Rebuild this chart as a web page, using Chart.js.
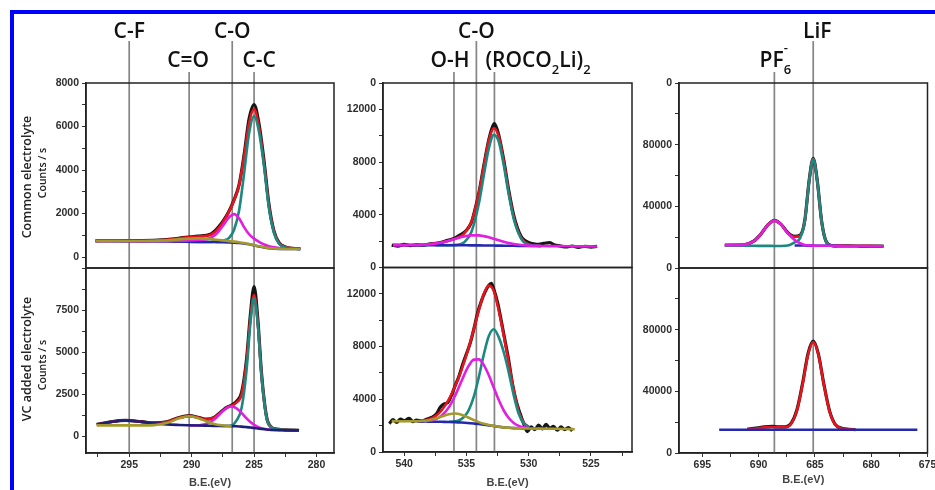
<!DOCTYPE html>
<html lang="en">
<head>
<meta charset="UTF-8">
<title>C 1s, O 1s and F 1s spectra</title>
<script src="https://cdn.jsdelivr.net/npm/chart.js@4.4.1/dist/chart.umd.min.js"></script>
<style>
  body { margin: 0; width: 935px; height: 490px; overflow: hidden; position: relative; background: #fff; }
  #frame { position: absolute; left: 10px; top: 10px; width: 960px; height: 520px; border-left: 4px solid #0000ff; border-top: 4px solid #0000ff; }
  canvas { position: absolute; top: 0; }
</style>
</head>
<body>
<div id="frame"></div>
<canvas id="c1s" width="340" height="490" style="left:0px"></canvas>
<canvas id="o1s" width="300" height="490" style="left:340px"></canvas>
<canvas id="f1s" width="295" height="490" style="left:640px"></canvas>
<script>
// ---------- C 1s ----------
const c1sBonds = ['C-F', 'C=O', 'C-O', 'C-C'];
const c1sBondBE = [295.0, 290.2, 286.75, 285.0];

const c1sBE = [297.7, 296, 294, 292, 290.5, 289.5, 288.5, 288, 287.5, 287, 286.6, 286.2, 285.8, 285.4, 285.0, 284.6, 284.2, 283.8, 283.4, 283.0, 282.5, 281.3];
const c1sComBg = [740, 735, 725, 715, 705, 700, 695, 690, 685, 675, 665, 650, 625, 590, 540, 490, 445, 410, 390, 380, 375, 372];
const c1sComCeqO = [740, 740, 740, 770, 840, 860, 830, 800, 770, 735, 710, 680, 645, 600, 550, 495, 450, 415, 393, 382, 376, 372];
const c1sComCO = [740, 745, 730, 740, 760, 790, 880, 1080, 1441, 1830, 1975, 1780, 1380, 1050, 850, 700, 580, 500, 450, 420, 395, null];
const c1sComCC = [null, null, null, null, 705, 700, 695, 726, 756, 883, 1259, 2141, 3839, 5687, 6480, 5740, 4145, 2210, 1090, 610, 445, 380];
const c1sComFit = [740, 750, 745, 795, 895, 950, 1015, 1226, 1597, 2098, 2614, 3301, 4614, 6157, 6800, 5955, 4285, 2305, 1153, 652, 466, 383];
const c1sComRaw = [745, 760, 755, 805, 905, 965, 1050, 1290, 1640, 2120, 2640, 3330, 4700, 6350, 7010, 6100, 4400, 2380, 1180, 660, 470, 380];

const c1sVcBE = [297.6, 296.5, 295.3, 294, 293, 292, 291, 290.2, 289.4, 288.8, 288.2, 287.6, 287.2, 286.8, 286.4, 286.0, 285.6, 285.3, 285.0, 284.7, 284.4, 284.0, 283.6, 283.2, 282.6, 281.4];
const c1sVcCF = [690, 840, 930, 850, 760, 700, 668, 650, 635, 625, 615, 610, 605, 600, 590, 570, 540, 515, 490, 460, 430, 395, 370, 358, 350, 345];
const c1sVcCeqO = [640, 640, 640, 641, 657, 780, 1061, 1188, 1056, 871, 724, 645, 619, 605, null, null, null, null, null, null, null, null, null, null, null, null];
const c1sVcCO = [null, null, null, null, null, null, null, 628, 650, 738, 996, 1421, 1672, 1770, 1657, 1381, 1053, 837, 673, 553, 473, 407, 372, null, null, null];
const c1sVcCC = [null, null, null, null, null, null, null, null, null, null, null, 610, 605, 640, 940, 1670, 3940, 6668, 8210, 6613, 3555, 1095, 520, 418, 375, 345];
const c1sVcFit = [690, 840, 930, 853, 782, 848, 1099, 1210, 1091, 994, 1105, 1456, 1686, 1815, 2007, 2481, 4453, 6990, 8393, 6706, 3598, 1107, 520, 418, 375, 345];
const c1sVcRaw = [700, 850, 935, 860, 790, 855, 1110, 1220, 1100, 1010, 1120, 1480, 1720, 1850, 2080, 2600, 4600, 7200, 8900, 6950, 3700, 1150, 530, 420, 378, 347];

const c1sTicks = [280, 282.5, 285, 287.5, 290, 292.5, 295, 297.5];
const c1sTickLabels = ['280', '', '285', '', '290', '', '295', ''];
const c1sComTicks = [0, 1000, 2000, 3000, 4000, 5000, 6000, 7000, 8000];
const c1sComLabels = ['0', '', '2000', '', '4000', '', '6000', '', '8000'];
const c1sVcTicks = [0, 1250, 2500, 3750, 5000, 6250, 7500, 8750, 10000];
const c1sVcLabels = ['0', '', '2500', '', '5000', '', '7500', '', ''];

// ---------- O 1s ----------
const o1sBonds = ['O-H', 'C-O', '(ROCO_{2}Li)_{2}'];
const o1sBondBE = [536.0, 534.2, 532.75];

const o1sBE = [540.9, 539, 537.5, 536.5, 535.8, 535.2, 534.6, 534.0, 533.6, 533.2, 532.8, 532.4, 532.0, 531.6, 531.2, 530.6, 530.0, 529.0, 528.3, 527.5, 526.5, 525.5, 524.5];
const o1sComBg = [1700, 1695, 1690, 1690, 1688, 1685, 1682, 1678, 1675, 1670, 1665, 1660, 1655, 1650, 1645, 1640, 1635, 1630, null, null, null, null, null];
const o1sComCO = [1700, 1709, 1809, 2009, 2199, 2349, 2440, 2436, 2379, 2288, 2176, 2059, 1948, 1854, 1779, 1703, 1661, 1634, 1625, 1620, 1610, 1600, 1595];
const o1sComROCO = [null, null, 1690, 1690, 1716, 1895, 2694, 4851, 6995, 9036, 10060, 9541, 7751, 5540, 3683, 2179, 1728, 1630, null, null, null, null, null];
const o1sComFit = [1700, 1709, 1809, 2009, 2227, 2559, 3452, 5609, 7699, 9654, 10571, 9940, 8044, 5744, 3817, 2242, 1754, 1634, null, null, null, null, null];
const o1sComRawBE = [541.0, 540.5, 540.0, 539.5, 539.0, 538.5, 538.0, 537.5, 537.0, 536.5, 536.0, 535.5, 535.0, 534.6, 534.3, 534.0, 533.6, 533.2, 532.9, 532.75, 532.6, 532.4, 532.0, 531.6, 531.2, 530.9, 530.6, 530.3, 530.0, 529.6, 529.2, 528.8, 528.3, 527.9, 527.5, 527.0, 526.5, 526.0, 525.5, 525.0, 524.5];
const o1sComRaw = [1700, 1620, 1760, 1660, 1720, 1690, 1780, 1830, 1910, 2060, 2200, 2470, 2830, 3420, 4450, 5650, 7750, 9700, 10700, 10920, 10650, 10050, 8150, 5850, 3950, 3000, 2350, 2050, 1900, 1800, 1760, 1830, 1880, 1700, 1640, 1560, 1630, 1530, 1610, 1550, 1600];

const o1sVcBE = [541.0, 540.0, 539.0, 538.3, 537.6, 537.0, 536.4, 535.9, 535.4, 534.9, 534.4, 534.0, 533.6, 533.2, 532.8, 532.4, 532.0, 531.6, 531.2, 530.8, 530.4, 530.0, 529.0, 528.0, 527.0, 526.3];
const o1sVcBg = [null, null, 2320, 2310, 2300, 2290, 2280, 2265, 2240, 2205, 2160, 2120, 2070, 2020, 1970, 1920, 1870, 1840, 1815, 1800, 1790, 1780, null, null, null, null];
const o1sVcOH = [2340, 2330, 2333, 2372, 2500, 2689, 2871, 2920, 2831, 2639, 2420, 2269, 2145, 2053, 1983, 1925, 1870, 1840, 1815, 1800, 1790, 1780, 1770, 1760, 1745, 1730];
const o1sVcCO = [null, null, null, 2342, 2452, 2750, 3407, 4284, 5367, 6396, 7011, 7027, 6591, 5817, 4872, 3939, 3149, 2578, 2203, 1986, 1871, 1810, null, null, null, null];
const o1sVcROCO = [null, null, null, null, null, null, 2292, 2327, 2495, 3022, 4213, 5704, 7406, 8798, 9310, 8698, 7570, 6040, 4315, 2900, 2170, 1880, null, null, null, null];
const o1sVcFit = [null, null, 2333, 2404, 2652, 3149, 4010, 5001, 6213, 7647, 9324, 10760, 12002, 12628, 12225, 10722, 8849, 6778, 4703, 3086, 2251, 1910, null, null, null, null];
const o1sVcRawBE = [541.2, 540.9, 540.6, 540.3, 540.0, 539.6, 539.3, 539.0, 538.6, 538.2, 537.8, 537.4, 537.1, 536.8, 536.5, 536.2, 535.9, 535.6, 535.3, 535.0, 534.7, 534.4, 534.1, 533.8, 533.5, 533.2, 533.0, 532.8, 532.5, 532.2, 531.9, 531.6, 531.3, 531.0, 530.7, 530.4, 530.1, 529.8, 529.5, 529.2, 528.9, 528.6, 528.3, 528.0, 527.7, 527.4, 527.1, 526.8, 526.5];
const o1sVcRaw = [2150, 2450, 2250, 2500, 2380, 2550, 2300, 2420, 2350, 2480, 2620, 2900, 3400, 3650, 3750, 4300, 5050, 5750, 6650, 7450, 8250, 9350, 10550, 11450, 12150, 12650, 12800, 12350, 11350, 9950, 8450, 6950, 5150, 3850, 2950, 2150, 1550, 1900, 1700, 2050, 1750, 2100, 1800, 1950, 1650, 1900, 1700, 1850, 1600];

const o1sTicks = [522.5, 525, 527.5, 530, 532.5, 535, 537.5, 540];
const o1sTickLabels = ['', '525', '', '530', '', '535', '', '540'];
const o1sTicksY = [0, 2000, 4000, 6000, 8000, 10000, 12000, 14000];
const o1sComLabels = ['', '', '4000', '', '8000', '', '12000', '0'];
const o1sVcLabels = ['0', '', '4000', '', '8000', '', '12000', '0'];

// ---------- F 1s ----------
const f1sBonds = ['PF_{6}^{-}', 'LiF'];
const f1sBondBE = [688.6, 685.15];

const f1sBE = [693.0, 692.0, 691.2, 690.4, 689.8, 689.2, 688.6, 688.0, 687.4, 686.8, 686.3, 685.9, 685.5, 685.15, 684.8, 684.4, 684.0, 683.5, 683.0, 682.0, 681.0, 680.0, 678.9];
const f1sComBg = [null, null, null, null, null, null, null, null, null, 14600, 14550, 14550, 14500, 14500, 14450, 14450, 14400, 14400, 14350, null, null, null, null];
const f1sComPF6 = [14800, 14834, 15180, 17525, 21960, 27730, 30700, 28180, 22430, 18200, 16050, 14940, 14610, 14530, 14450, 14450, 14400, 14400, 14350, 14300, 14250, 14200, 14150];
const f1sComLiF = [14450, 14450, 14400, 14400, 14350, 14350, 14300, 14300, 14600, 16600, 19550, 30050, 56930, 70700, 56880, 29950, 17100, 14510, 14350, null, null, null, null];
const f1sComFit = [14800, 14834, 15180, 17525, 21960, 27730, 30700, 28180, 22730, 20200, 21050, 30440, 57040, 70730, 56880, 29950, 17100, 14510, 14350, 14300, 14250, 14200, 14150];
const f1sComRaw = [14800, 14850, 15250, 17600, 22000, 27800, 30900, 28300, 22900, 20500, 21400, 30800, 57500, 71200, 57200, 30200, 17200, 14550, 14400, 14300, 14250, 14200, 14150];

const f1sVcBE = [693.5, 692.0, 691.0, 690.2, 689.5, 688.8, 688.2, 687.6, 687.1, 686.6, 686.1, 685.6, 685.15, 684.7, 684.2, 683.7, 683.2, 682.6, 682.0, 681.4, 680.5, 679.0, 677.5, 675.9];
const f1sVcBg = [15100, 15100, 15100, 15100, 15100, 15100, 15100, 15100, 15100, 15100, 15100, 15100, 15100, 15100, 15100, 15100, 15100, 15100, 15100, 15100, 15100, 15100, 15100, 15100];
const f1sVcFit = [null, null, 15400, 15900, 16600, 16900, 16700, 16750, 19060, 27400, 44370, 64050, 72000, 64050, 44170, 27000, 18460, 15900, 15350, 15160, null, null, null, null];
const f1sVcRaw = [null, null, 15500, 16100, 16900, 17300, 17000, 17000, 19400, 27900, 45000, 64800, 72600, 64500, 44500, 27300, 18600, 16000, 15400, 15200, null, null, null, null];

const f1sTicks = [675, 677.5, 680, 682.5, 685, 687.5, 690, 692.5, 695];
const f1sTickLabels = ['675', '', '680', '', '685', '', '690', '', '695'];
const f1sTicksY = [0, 20000, 40000, 60000, 80000, 100000, 120000];
const f1sComLabels = ['', '', '40000', '', '80000', '', '0'];
const f1sVcLabels = ['0', '', '40000', '', '80000', '', '0'];

// ---------- drawing ----------
const clr = { black: '#161616', red: '#e8131b', teal: '#1b8882', magenta: '#e01fe0', blue: '#2328ad', navy: '#1e2078', olive: '#a49a2c' };
const tickFont = { family: 'Liberation Sans', weight: 'bold', size: 10.5 };

function pts(xs, ys) {
  return xs.map((x, i) => ({ x: x, y: ys[i] }));
}

function curve(xs, ys, color, axis) {
  return { data: pts(xs, ys), borderColor: color, borderWidth: 2.6, pointRadius: 0, fill: false,
    cubicInterpolationMode: 'monotone', spanGaps: false, yAxisID: axis };
}

function raw(xs, ys, axis) {
  return { data: pts(xs, ys), borderColor: clr.black, borderWidth: 3.2, pointRadius: 0, fill: false,
    cubicInterpolationMode: 'monotone', spanGaps: false, yAxisID: axis };
}

function yAxis(min, max, ticks, labels, width) {
  return {
    type: 'linear', position: 'left', stack: 'panels', stackWeight: 1, min: min, max: max,
    afterBuildTicks: s => { s.ticks = ticks.map(v => ({ value: v })); },
    afterFit: s => { s.width = width; s.paddingTop = 0; s.paddingBottom = 0; },
    ticks: { autoSkip: false, padding: 3, color: '#2e2e2e', font: tickFont, callback: (v, i) => labels[i] },
    grid: { drawOnChartArea: false, tickLength: 4, color: '#333', lineWidth: 1 },
    border: { display: true, color: '#222', width: 1.5 }
  };
}

function xAxis(min, max, ticks, labels, height, titlePad) {
  return {
    type: 'linear', position: 'bottom', reverse: true, min: min, max: max,
    afterBuildTicks: s => { s.ticks = ticks.map(v => ({ value: v })); },
    afterFit: s => { s.height = height; s.paddingLeft = 0; s.paddingRight = 0; },
    ticks: { autoSkip: false, maxRotation: 0, padding: 2, color: '#2e2e2e', font: tickFont, callback: (v, i) => labels[i] },
    grid: { drawOnChartArea: false, tickLength: 4, color: '#333', lineWidth: 1 },
    border: { display: true, color: '#222', width: 1.5 },
    title: { display: true, text: 'B.E.(eV)', color: '#444',
      font: { family: 'Liberation Sans', weight: 'bold', size: 11 }, padding: { top: 0, bottom: titlePad } }
  };
}

function opts(padRight, scales) {
  return {
    responsive: false, animation: false, devicePixelRatio: 1, events: [],
    layout: { padding: { top: 83, right: padRight, bottom: 0, left: 0 } },
    plugins: { legend: { display: false }, tooltip: { enabled: false } },
    scales: scales
  };
}

// labels above the panels, with sub/superscripts written as _{..} and ^{..}
function drawRich(ctx, text, x, y, align) {
  const big = '600 21px "Open Sans"', small = '600 13px "Open Sans"';
  const parts = text.split(/(_\{[^}]*\}|\^\{[^}]*\})/).filter(p => p);
  let cx = 0, prev = null;
  const items = parts.map(p => {
    const sub = p[0] === '_', sup = p[0] === '^';
    const t = (sub || sup) ? p.slice(2, -1) : p;
    const font = (sub || sup) ? small : big;
    ctx.font = font;
    const w = ctx.measureText(t).width;
    let ix = cx;
    if (sup && prev && prev.sub) { ix = prev.x; cx = Math.max(cx, ix + w); } else { cx += w; }
    const it = { t: t, x: ix, dy: sub ? 7 : (sup ? -15 : 0), font: font, sub: sub };
    prev = it;
    return it;
  });
  const x0 = align === 'left' ? x : x - cx / 2;
  ctx.textAlign = 'left';
  ctx.textBaseline = 'alphabetic';
  items.forEach(it => { ctx.font = it.font; ctx.fillText(it.t, x0 + it.x, y + it.dy); });
}

const decorCfg = {
  c1s: { names: c1sBonds, be: c1sBondBE, rows: [0, 1, 0, 1], dx: [0, -1, 0, 5], align: ['center', 'center', 'center', 'center'],
    yTitles: [['Common electrolyte', 27, 177, 12.5], ['Counts / s', 43, 173, 10.5], ['VC added electrolyte', 27, 359, 12.5], ['Counts / s', 43, 365, 10.5]] },
  o1s: { names: o1sBonds, be: o1sBondBE, rows: [1, 0, 1], dx: [-4, 0, -9], align: ['center', 'center', 'left'], yTitles: [] },
  f1s: { names: f1sBonds, be: f1sBondBE, rows: [1, 0], dx: [1, 4], align: ['center', 'center'], yTitles: [] }
};

const decor = {
  id: 'decor',
  beforeDatasetsDraw(chart) {
    const cfg = decorCfg[chart.canvas.id], ctx = chart.ctx, x = chart.scales.x;
    ctx.save();
    ctx.strokeStyle = '#858585';
    ctx.lineWidth = 1.7;
    cfg.be.forEach((be, i) => {
      const px = x.getPixelForValue(be);
      ctx.beginPath();
      ctx.moveTo(px, cfg.rows[i] ? 72 : 41);
      ctx.lineTo(px, chart.chartArea.bottom);
      ctx.stroke();
    });
    ctx.restore();
  },
  afterDraw(chart) {
    const cfg = decorCfg[chart.canvas.id], ctx = chart.ctx, area = chart.chartArea, x = chart.scales.x;
    ctx.save();
    ctx.strokeStyle = '#222';
    ctx.lineWidth = 1.5;
    ['yt', 'yb'].forEach(id => {
      const s = chart.scales[id];
      ctx.strokeRect(area.left, s.top, area.right - area.left, s.bottom - s.top);
    });
    ctx.fillStyle = '#111';
    cfg.names.forEach((name, i) => {
      drawRich(ctx, name, x.getPixelForValue(cfg.be[i]) + cfg.dx[i], cfg.rows[i] ? 67 : 38, cfg.align[i]);
    });
    ctx.fillStyle = '#222';
    ctx.textAlign = 'center';
    ctx.textBaseline = 'middle';
    cfg.yTitles.forEach(t => {
      ctx.save();
      ctx.translate(t[1], t[2]);
      ctx.rotate(-Math.PI / 2);
      ctx.font = '600 ' + t[3] + 'px "Open Sans"';
      ctx.fillText(t[0], 0, 0);
      ctx.restore();
    });
    ctx.restore();
  }
};

new Chart(document.getElementById('c1s'), {
  type: 'line',
  data: { datasets: [
    curve(c1sBE, c1sComCeqO, clr.olive, 'yt'),
    curve(c1sBE, c1sComCO, clr.magenta, 'yt'),
    curve(c1sBE, c1sComBg, clr.blue, 'yt'),
    curve(c1sBE, c1sComCC, clr.teal, 'yt'),
    curve(c1sBE, c1sComFit, clr.red, 'yt'),
    raw(c1sBE, c1sComRaw, 'yt'),
    curve(c1sVcBE, c1sVcCeqO, clr.olive, 'yb'),
    curve(c1sVcBE, c1sVcCF, clr.navy, 'yb'),
    curve(c1sVcBE, c1sVcCO, clr.magenta, 'yb'),
    curve(c1sVcBE, c1sVcCC, clr.teal, 'yb'),
    curve(c1sVcBE, c1sVcFit, clr.red, 'yb'),
    raw(c1sVcBE, c1sVcRaw, 'yb')
  ] },
  options: opts(6, {
    x: xAxis(278.6, 298.46, c1sTicks, c1sTickLabels, 37, 0.4),
    yb: yAxis(-1000, 10000, c1sVcTicks, c1sVcLabels, 86),
    yt: yAxis(-500, 8000, c1sComTicks, c1sComLabels, 86)
  }),
  plugins: [decor]
});

new Chart(document.getElementById('o1s'), {
  type: 'line',
  data: { datasets: [
    curve(o1sBE, o1sComCO, clr.magenta, 'yt'),
    curve(o1sBE, o1sComBg, clr.blue, 'yt'),
    curve(o1sBE, o1sComROCO, clr.teal, 'yt'),
    curve(o1sBE, o1sComFit, clr.red, 'yt'),
    raw(o1sComRawBE, o1sComRaw, 'yt'),
    curve(o1sVcBE, o1sVcOH, clr.olive, 'yb'),
    curve(o1sVcBE, o1sVcCO, clr.magenta, 'yb'),
    curve(o1sVcBE, o1sVcBg, clr.blue, 'yb'),
    curve(o1sVcBE, o1sVcROCO, clr.teal, 'yb'),
    curve(o1sVcBE, o1sVcFit, clr.red, 'yb'),
    raw(o1sVcRawBE, o1sVcRaw, 'yb')
  ] },
  options: opts(8, {
    x: xAxis(521.7, 541.7, o1sTicks, o1sTickLabels, 38, 0.4),
    yb: yAxis(0, 14000, o1sTicksY, o1sVcLabels, 43),
    yt: yAxis(0, 14000, o1sTicksY, o1sComLabels, 43)
  }),
  plugins: [decor]
});

new Chart(document.getElementById('f1s'), {
  type: 'line',
  data: { datasets: [
    curve(f1sBE, f1sComPF6, clr.magenta, 'yt'),
    curve(f1sBE, f1sComBg, clr.blue, 'yt'),
    curve(f1sBE, f1sComLiF, clr.teal, 'yt'),
    curve(f1sBE, f1sComFit, clr.red, 'yt'),
    raw(f1sBE, f1sComRaw, 'yt'),
    curve(f1sVcBE, f1sVcBg, clr.blue, 'yb'),
    curve(f1sVcBE, f1sVcFit, clr.red, 'yb'),
    raw(f1sVcBE, f1sVcRaw, 'yb')
  ] },
  options: opts(7.5, {
    x: xAxis(675, 697.07, f1sTicks, f1sTickLabels, 37, 3.4),
    yb: yAxis(0, 120000, f1sTicksY, f1sVcLabels, 39),
    yt: yAxis(0, 120000, f1sTicksY, f1sComLabels, 39)
  }),
  plugins: [decor]
});
</script>
</body>
</html>
